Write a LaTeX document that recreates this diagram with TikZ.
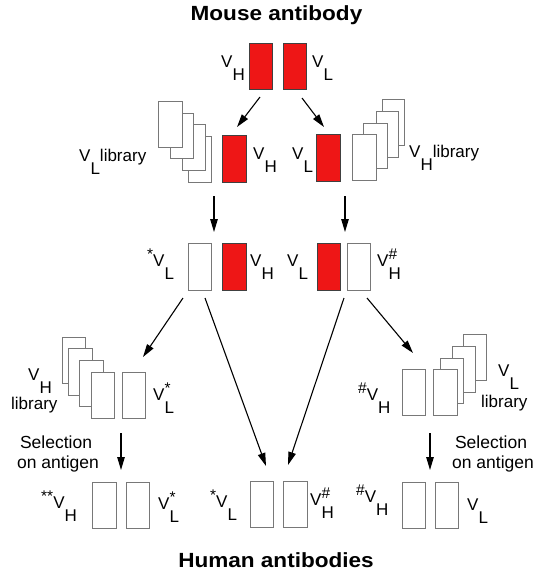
\documentclass[tikz,border=0pt]{standalone}
\usepackage{fontspec}
\setmainfont{Liberation Sans}
\newfontfamily\titlefont{Liberation Sans}[FakeStretch=1.1]
\usetikzlibrary{arrows.meta}
\definecolor{abred}{RGB}{238,22,22}
\definecolor{edgegray}{RGB}{120,120,120}
% raised mark (* or #) beside a domain name
\newcommand\mk[1]{\raisebox{0.36em}{\fontsize{15.5}{15.5}\selectfont #1}}
% domain label: leading mark, V, lowered chain letter, trailing mark
\newcommand\vlab[3]{\mk{#1}V\rlap{\mk{#3}}\raisebox{-0.8em}{#2}}
% box: name, style, left, top, width, height
\newcommand\bx[6]{\node[#2, anchor=north west, minimum width=#5pt, minimum height=#6pt] (#1) at (#3,#4) {};}
\begin{document}
\begin{tikzpicture}[x=1pt,y=-1pt,
  wbox/.style={draw=edgegray, fill=white, line width=0.9pt, inner sep=0pt, outer sep=0pt},
  rbox/.style={draw=black!75, fill=abred, line width=0.9pt, inner sep=0pt, outer sep=0pt},
  lab/.style={inner sep=0pt, anchor=base west, font=\fontsize{17}{19}\selectfont},
  sel/.style={inner sep=0pt, anchor=base, font=\fontsize{17.5}{20}\selectfont},
  title/.style={inner sep=0pt, anchor=base, font=\titlefont\bfseries\fontsize{20.5}{24}\selectfont},
  arr/.style={line width=1.1pt, -{Triangle[length=13pt,width=7.5pt]}}]
\useasboundingbox (0,0) rectangle (535,574);

% titles
\node[title] (tmouse) at (276.5,20.5) {Mouse antibody};
\node[title] (thuman) at (276,567) {Human antibodies};

% row 1: mouse VH and VL
\bx{m1}{rbox}{249}{43}{23}{46}
\bx{m2}{rbox}{283}{43}{23}{46}
\node[lab] (l1a) at (221,67) {\vlab{}{H}{}};
\node[lab] (l1b) at (312,67) {\vlab{}{L}{}};

% row 2: VL library + mouse VH
\bx{s24}{wbox}{188}{136}{23}{46}
\bx{s23}{wbox}{182}{124}{23}{46}
\bx{s22}{wbox}{170}{113}{23}{45}
\bx{s21}{wbox}{158}{101}{24}{46}
\bx{m3}{rbox}{222}{135}{24}{47}
\node[lab] (l2a) at (79,161) {\vlab{}{L}{}library};
\node[lab] (l2b) at (253,159) {\vlab{}{H}{}};
% row 2: mouse VL + VH library
\bx{m4}{rbox}{316}{134}{24}{47}
\bx{r24}{wbox}{382}{99}{22}{46}
\bx{r23}{wbox}{376}{111}{22}{46}
\bx{r22}{wbox}{363}{123}{24}{45}
\bx{r21}{wbox}{352}{134}{24}{46}
\node[lab] (l2c) at (292,159) {\vlab{}{L}{}};
\node[lab] (l2d) at (409,157) {\vlab{}{H}{}library};

% row 3: hybrids
\bx{h1}{wbox}{188}{243}{23}{47}
\bx{h2}{rbox}{222}{243}{24}{47}
\bx{h3}{rbox}{317}{243}{23}{47}
\bx{h4}{wbox}{347}{243}{23}{47}
\node[lab] (l3a) at (147,266) {\vlab{*}{L}{}};
\node[lab] (l3b) at (250,266) {\vlab{}{H}{}};
\node[lab] (l3c) at (287,266) {\vlab{}{L}{}};
\node[lab] (l3d) at (377,266) {\vlab{}{H}{\#}};

% row 4 left: VH library + selected VL
\bx{p1}{wbox}{62}{337}{23}{46}
\bx{p2}{wbox}{68}{348}{24}{47}
\bx{p3}{wbox}{79}{360}{24}{46}
\bx{p4}{wbox}{91}{372}{23}{46}
\bx{p5}{wbox}{122}{372}{23}{46}
\node[lab] (l4a) at (28,380) {\vlab{}{H}{}};
\node[lab] (l4b) at (11,409) {library};
\node[lab] (l4c) at (153,400) {\vlab{}{L}{*}};

% row 4 right: selected VH + VL library
\bx{q0}{wbox}{402}{369}{23}{46}
\bx{q4}{wbox}{463}{334}{23}{46}
\bx{q3}{wbox}{452}{346}{23}{46}
\bx{q2}{wbox}{440}{358}{23}{45}
\bx{q1}{wbox}{433}{369}{24}{46}
\node[lab] (l4d) at (358,400) {\vlab{\#}{H}{}};
\node[lab] (l4e) at (498,376) {\vlab{}{L}{}};
\node[lab] (l4f) at (481,407) {library};

% selection captions
\node[sel] (sel1a) at (56,448) {Selection};
\node[sel] (sel1b) at (58,468) {on antigen};
\node[sel] (sel2a) at (491,448) {Selection};
\node[sel] (sel2b) at (493,468) {on antigen};

% row 5: human antibodies
\bx{u1}{wbox}{92}{482}{24}{46}
\bx{u2}{wbox}{126}{482}{23}{46}
\bx{u3}{wbox}{250}{481}{23}{46}
\bx{u4}{wbox}{283}{481}{24}{46}
\bx{u5}{wbox}{402}{482}{23}{46}
\bx{u6}{wbox}{435}{482}{23}{46}
\node[lab] (l5a) at (41,508) {\vlab{**}{H}{}};
\node[lab] (l5b) at (158,509) {\vlab{}{L}{*}};
\node[lab] (l5c) at (210,507) {\vlab{*}{L}{}};
\node[lab] (l5d) at (310,505) {\vlab{}{H}{\#}};
\node[lab] (l5e) at (356,502) {\vlab{\#}{H}{}};
\node[lab] (l5f) at (467,510) {\vlab{}{L}{}};

% arrow end points
\coordinate (a1s) at (260,97);  \coordinate (a1e) at (237,127);
\coordinate (a2s) at (302,98);  \coordinate (a2e) at (324,127);
\coordinate (a3s) at (214,196); \coordinate (a3e) at (214,232);
\coordinate (a4s) at (345,196); \coordinate (a4e) at (345,232);
\coordinate (a5s) at (183,298); \coordinate (a5e) at (143,357);
\coordinate (a6s) at (205,298); \coordinate (a6e) at (266,466);
\coordinate (a7s) at (344,298); \coordinate (a7e) at (288,465);
\coordinate (a8s) at (367,298); \coordinate (a8e) at (413,353);
\coordinate (a9s) at (121,433); \coordinate (a9e) at (121,470);
\coordinate (a10s) at (430,433); \coordinate (a10e) at (430,470);

\foreach \i in {1,...,10} \draw[arr] (a\i s) -- (a\i e);
\end{tikzpicture}
\end{document}
